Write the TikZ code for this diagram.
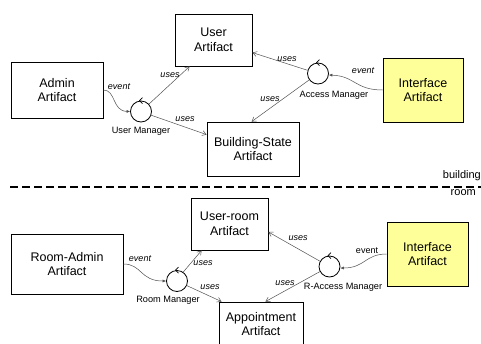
\documentclass[tikz,border=0pt]{standalone}
\usepackage{fontspec}
\setmainfont{Liberation Sans}
\usetikzlibrary{arrows.meta,calc}
\definecolor{ifyellow}{RGB}{255,255,153}
\definecolor{edgegray}{RGB}{80,80,80}
\tikzset{
  box/.style={draw=black, line width=0.8pt, align=center, inner sep=0pt,
    font=\fontsize{12.5}{14.5}\selectfont},
  mgr/.style={draw=black, line width=0.8pt, circle, minimum size=21pt, inner sep=0pt},
  mgrlabel/.style={font=\fontsize{9.2}{11}\selectfont, inner sep=0pt},
  lbl/.style={font=\fontsize{9}{11}\selectfont\itshape, inner sep=0pt},
  lblup/.style={font=\fontsize{9}{11}\selectfont, inner sep=0pt},
  uses/.style={draw=edgegray, line width=0.5pt, -{Straight Barb[length=4pt,width=5pt]}},
  evt/.style={draw=edgegray, line width=0.5pt, -{Latex[length=3.5pt,width=3pt]}},
  chev/.style={draw=black, line width=0.6pt},
  sep/.style={line width=1.2pt, dash pattern=on 7.5pt off 4.5pt},
  side/.style={font=\fontsize{11}{13}\selectfont, inner sep=0pt}
}
\begin{document}
\begin{tikzpicture}[x=1pt,y=-1pt]
\useasboundingbox (0,0) rectangle (481,343);
% ---------- top half ----------
\node[box, minimum width=92pt, minimum height=56pt] (admin) at (57,90) {Admin\\Artifact};
\node[box, minimum width=77pt, minimum height=52pt] (user) at (213.5,40) {User\\Artifact};
\node[box, minimum width=92pt, minimum height=54pt] (bstate) at (253,149) {Building-State\\Artifact};
\node[box, fill=ifyellow, minimum width=80pt, minimum height=64pt] (iface1) at (423,90) {Interface\\Artifact};
\node[mgr] (um) at (141,111.5) {};
\node[mgr] (am) at (318,73.5) {};
\node[mgrlabel] (uml) at (141,131) {User Manager};
\node[mgrlabel] (aml) at (334,95) {Access Manager};
\draw[chev] ($(um.north)+(-1.5,0)$) ++(3,-3) -- ++(-3,3) -- ++(3,3);
\draw[chev] ($(am.north)+(-1.5,0)$) ++(3,-3) -- ++(-3,3) -- ++(3,3);

\draw[uses] (um.43) -- ($(user.south west)+(15,0)$);
\node[lbl] (u1) at (170,75) {uses};
\draw[uses] (um.-20) -- ($(bstate.north west)+(0,13)$);
\node[lbl] (u2) at (185,119) {uses};
\draw[evt] (admin.east) .. controls (116,90) and (112,111) .. (um.west);
\node[lbl] (e1) at (119,87) {event};
\draw[uses] (am.163) -- ($(user.north east)+(0,39)$);
\node[lbl] (u3) at (287,59) {uses};
\draw[uses] (am.216) -- ($(bstate.north west)+(45,0)$);
\node[lbl] (u4) at (270,99) {uses};
\draw[evt] (iface1.west) .. controls (355,90) and (355,76) .. (am.-8);
\node[lbl] (e2) at (363,71) {event};

% ---------- separator ----------
\coordinate (sl) at (10,187);
\coordinate (sr) at (481,187);
\draw[sep] (sl) -- (sr);
\node[side, anchor=east] (bld) at (481,176) {building};
\node[side, anchor=east] (rm0) at (476,193) {room};

% ---------- bottom half ----------
\node[box, minimum width=112pt, minimum height=60pt] (radmin) at (67,264) {Room-Admin\\Artifact};
\node[box, minimum width=77pt, minimum height=52pt] (uroom) at (229.5,224) {User-room\\Artifact};
\node[box, minimum width=84pt, minimum height=44pt] (appt) at (261,324) {Appointment\\Artifact};
\node[box, fill=ifyellow, minimum width=81pt, minimum height=64pt] (iface2) at (427.5,254) {Interface\\Artifact};
\node[mgr] (rm) at (177,281) {};
\node[mgr] (ram) at (329.5,266.5) {};
\node[mgrlabel] (rml) at (168,300) {Room Manager};
\node[mgrlabel] (raml) at (343,287) {R-Access Manager};
\draw[chev] ($(rm.north)+(-1.5,0)$) ++(3,-3) -- ++(-3,3) -- ++(3,3);
\draw[chev] ($(ram.north)+(-1.5,0)$) ++(3,-3) -- ++(-3,3) -- ++(3,3);

\draw[uses] (rm.55) -- ($(uroom.south west)+(11,0)$);
\node[lbl] (u5) at (203,263) {uses};
\draw[uses] (rm.-25) -- ($(appt.north west)+(3,0)$);
\node[lbl] (u6) at (210,287) {uses};
\draw[evt] (radmin.east) .. controls (142,264) and (140,281) .. (rm.west);
\node[lbl] (e3) at (140,259) {event};
\draw[uses] (ram.151) -- ($(uroom.east)+(0,8)$);
\node[lbl] (u7) at (298,238) {uses};
\draw[uses] (ram.208) -- ($(appt.north east)+(-38,0)$);
\node[lbl] (u8) at (285,283) {uses};
\draw[evt] (iface2.west) .. controls (365,254) and (365,268) .. (ram.-8);
\node[lblup] (e4) at (367,251) {event};
\end{tikzpicture}
\end{document}
